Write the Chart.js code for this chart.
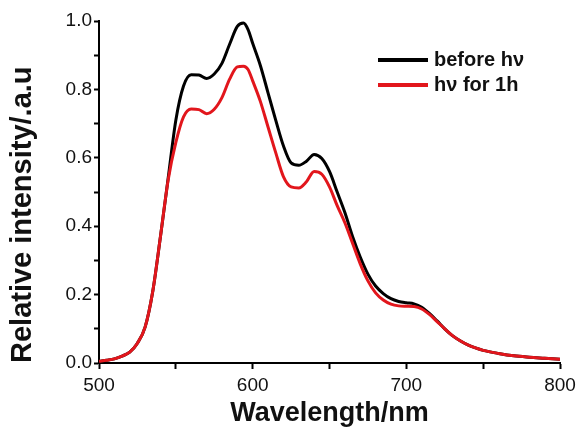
<!DOCTYPE html>
<html>
<head>
<meta charset="utf-8">
<script src="https://cdn.jsdelivr.net/npm/chart.js@4"></script>
<style>
  html, body { margin: 0; padding: 0; background: #fff; }
  #wrap { width: 581px; height: 432px; }
</style>
</head>
<body>
<div id="wrap"><canvas id="myChart" width="581" height="432"></canvas></div>
<script>
// wavelength (nm) and relative intensity
const wavelength = [500, 505, 510, 515, 520, 525, 530, 535, 540, 545, 550, 555, 560, 565, 570, 575, 580, 585, 590, 594, 597, 600, 605, 610, 615, 620, 625, 630, 635, 640, 645, 650, 655, 660, 665, 670, 675, 680, 685, 690, 695, 700, 705, 710, 715, 720, 725, 730, 735, 740, 745, 750, 760, 770, 780, 790, 800];
const beforeHv = [0.005, 0.008, 0.012, 0.02, 0.032, 0.058, 0.105, 0.21, 0.37, 0.54, 0.71, 0.81, 0.843, 0.842, 0.832, 0.845, 0.876, 0.932, 0.984, 0.994, 0.975, 0.935, 0.87, 0.79, 0.71, 0.635, 0.585, 0.578, 0.59, 0.61, 0.598, 0.56, 0.50, 0.44, 0.37, 0.31, 0.26, 0.225, 0.203, 0.188, 0.180, 0.176, 0.173, 0.163, 0.145, 0.123, 0.10, 0.08, 0.065, 0.053, 0.044, 0.037, 0.028, 0.021, 0.017, 0.014, 0.011];
const afterHv = [0.005, 0.008, 0.012, 0.02, 0.032, 0.058, 0.105, 0.21, 0.37, 0.535, 0.645, 0.72, 0.743, 0.741, 0.729, 0.742, 0.776, 0.83, 0.866, 0.868, 0.858, 0.825, 0.765, 0.69, 0.615, 0.545, 0.515, 0.512, 0.530, 0.560, 0.552, 0.515, 0.46, 0.41, 0.35, 0.29, 0.24, 0.205, 0.184, 0.172, 0.167, 0.166, 0.165, 0.158, 0.142, 0.121, 0.10, 0.08, 0.065, 0.053, 0.044, 0.037, 0.028, 0.021, 0.017, 0.014, 0.011];
const seriesNames = ['before h\u03bd', 'h\u03bd for 1h'];
const xTickLabels = [500, 600, 700, 800];
const yTickLabels = [0.0, 0.2, 0.4, 0.6, 0.8, 1.0];

const FONT = '"Liberation Sans", Arial, sans-serif';

function toPoints(ys) {
    return wavelength.map((x, i) => ({ x: x, y: ys[i] }));
}

// legend drawn inside the plot, top right
const insideLegend = {
    id: 'insideLegend',
    afterDraw(chart) {
        const ctx = chart.ctx;
        const sets = [chart.data.datasets[0], chart.data.datasets[1]];
        ctx.save();
        ctx.font = 'bold 20px ' + FONT;
        ctx.textBaseline = 'middle';
        sets.forEach((ds, i) => {
            const y = 60 + i * 25;
            ctx.strokeStyle = ds.borderColor;
            ctx.lineWidth = 4;
            ctx.beginPath();
            ctx.moveTo(378, y);
            ctx.lineTo(428, y);
            ctx.stroke();
            ctx.fillStyle = '#111';
            ctx.fillText(ds.label, 434, y);
        });
        ctx.restore();
    }
};

document.addEventListener('DOMContentLoaded', function() {
    var ctx = document.getElementById('myChart').getContext('2d');

    new Chart(ctx, {
        type: 'line',
        data: {
            datasets: [{
                label: seriesNames[0],
                data: toPoints(beforeHv),
                borderColor: '#000000',
                borderWidth: 3,
                pointRadius: 0,
                cubicInterpolationMode: 'monotone',
                order: 1
            }, {
                label: seriesNames[1],
                data: toPoints(afterHv),
                borderColor: 'rgb(226, 22, 28)',
                borderWidth: 3,
                pointRadius: 0,
                cubicInterpolationMode: 'monotone',
                order: 0
            }]
        },
        options: {
            responsive: false,
            animation: false,
            layout: { padding: { top: 21, right: 21 } },
            plugins: {
                legend: { display: false },
                tooltip: { enabled: false }
            },
            scales: {
                x: {
                    type: 'linear',
                    min: 500,
                    max: 800,
                    afterFit: s => { s.height = 69; },
                    border: { display: true, color: '#000', width: 2 },
                    grid: { drawOnChartArea: false, drawTicks: true, tickLength: 6, tickWidth: 2, tickColor: '#000' },
                    ticks: {
                        stepSize: 50,
                        padding: 5,
                        color: '#111',
                        font: { family: FONT, size: 19 },
                        maxRotation: 0,
                        callback: v => xTickLabels.includes(v) ? String(v) : ''
                    },
                    title: {
                        display: true,
                        text: 'Wavelength/nm',
                        color: '#111',
                        font: { family: FONT, size: 27, weight: 'bold' },
                        padding: { top: 0, bottom: 2 }
                    }
                },
                y: {
                    min: 0,
                    max: 1,
                    afterFit: s => { s.width = 99; },
                    border: { display: true, color: '#000', width: 2 },
                    grid: { drawOnChartArea: false, drawTicks: true, tickLength: 5, tickWidth: 2, tickColor: '#000' },
                    ticks: {
                        stepSize: 0.1,
                        padding: 2,
                        color: '#111',
                        font: { family: FONT, size: 19 },
                        callback: v => {
                            const r = Math.round(v * 10) / 10;
                            return yTickLabels.some(t => Math.abs(t - r) < 1e-6) && Math.abs(v - r) < 1e-6 ? r.toFixed(1) : '';
                        }
                    },
                    title: {
                        display: true,
                        text: 'Relative intensity/.a.u',
                        align: 'start',
                        color: '#111',
                        font: { family: FONT, size: 29, weight: 'bold' },
                        padding: { top: 6, bottom: 0 }
                    }
                }
            }
        },
        plugins: [insideLegend]
    });
});
</script>
</body>
</html>
